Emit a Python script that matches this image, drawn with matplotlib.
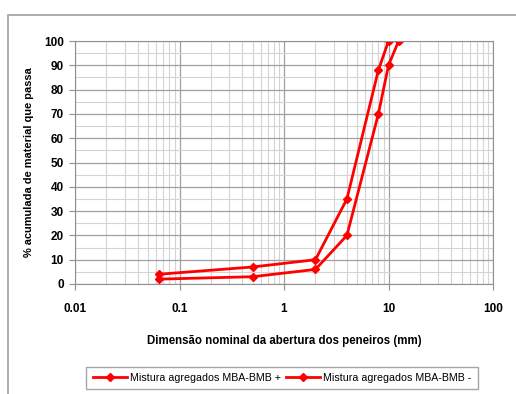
import matplotlib
matplotlib.use("Agg")
import matplotlib.pyplot as plt
from matplotlib.ticker import LogLocator, MultipleLocator, FixedLocator, FixedFormatter
from matplotlib.patches import Rectangle

plt.rcParams['font.family'] = ['Liberation Sans', 'DejaVu Sans']

sieve_plus = [0.063, 0.5, 2, 4, 8, 10]
pass_plus = [4, 7, 10, 35, 88, 100]
sieve_minus = [0.063, 0.5, 2, 4, 8, 10, 12.5]
pass_minus = [2, 3, 6, 20, 70, 90, 100]
labels = ["Mistura agregados MBA-BMB +", "Mistura agregados MBA-BMB -"]
xticks = [0.01, 0.1, 1, 10, 100]
xticklabels = ["0.01", "0.1", "1", "10", "100"]

fig = plt.figure(figsize=(5.16, 3.94), dpi=100)
fig.patches.append(Rectangle((8/516, -0.1), 1.2, 1 - 15/394 + 0.1, transform=fig.transFigure,
                             fill=False, edgecolor='#a0a0a0', linewidth=1.2))
ax = fig.add_axes([75/516, 1 - 284/394, (493 - 75)/516, (284 - 41)/394])

for xs, ys, lab in zip([sieve_plus, sieve_minus], [pass_plus, pass_minus], labels):
    ax.plot(xs, ys, color='#ff0000', lw=2, marker='D', ms=4.5, mec='#ff0000', label=lab)

ax.set_xscale('log')
ax.set_xlim(0.01, 100)
ax.set_ylim(0, 100)
ax.xaxis.set_major_locator(FixedLocator(xticks))
ax.xaxis.set_major_formatter(FixedFormatter(xticklabels))
ax.xaxis.set_minor_locator(LogLocator(base=10, subs=range(2, 10)))
ax.xaxis.set_minor_formatter(FixedFormatter([]))
ax.yaxis.set_major_locator(MultipleLocator(10))
ax.yaxis.set_minor_locator(MultipleLocator(5))

ax.grid(which='major', color='#a0a0a0', lw=0.9)
ax.grid(which='minor', color='#d4d4d4', lw=0.8)
ax.set_axisbelow(True)
for s in ax.spines.values():
    s.set_color('#909090')
ax.tick_params(which='major', length=4, color='#909090', labelsize=8.5, pad=10)
ax.tick_params(axis='y', which='major', pad=4)
ax.tick_params(which='minor', length=0)
for t in ax.get_xticklabels() + ax.get_yticklabels():
    t.set_fontweight('bold')

ax.set_xlabel("Dimensão nominal da abertura dos peneiros (mm)", fontsize=8.3, fontweight='bold', labelpad=14)
ax.set_ylabel("% acumulada de material que passa", fontsize=7.9, fontweight='bold', labelpad=7)

leg = fig.legend(loc='center', bbox_to_anchor=(282/516, 1 - 378/394), ncol=2, fontsize=7.7,
                 frameon=True, fancybox=False, edgecolor='#909090', handlelength=3.2,
                 handletextpad=0.3, columnspacing=0.4, borderpad=0.6, borderaxespad=0)
leg.get_frame().set_linewidth(1.0)

fig.savefig("out.png", dpi=100)
